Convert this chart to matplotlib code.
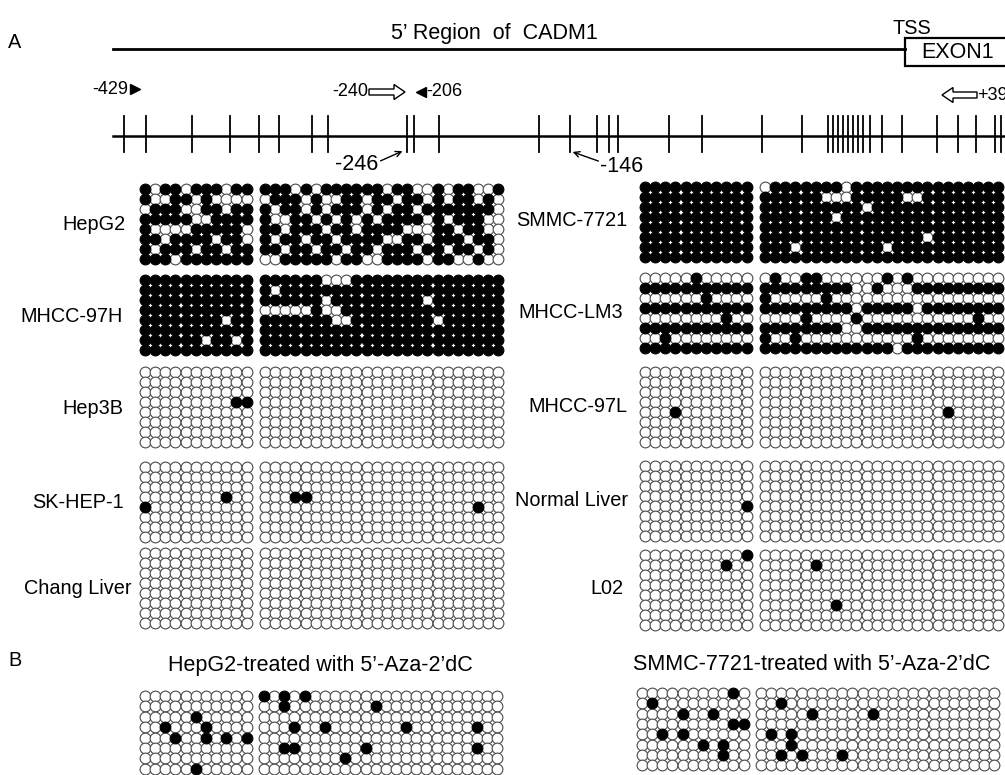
import matplotlib
matplotlib.use("Agg")
import matplotlib.pyplot as plt
from matplotlib.patches import Rectangle, FancyArrow

plt.rcParams['font.family'] = ['Liberation Sans', 'DejaVu Sans']

# ---------------- data ----------------
# CpG site positions along the schematic (x in figure pixels of the schematic)
cpg_sites = [124, 146, 192, 230, 259, 279, 312, 328, 407, 414, 439, 539, 570,
             597, 609, 618, 669, 702, 762, 802, 828, 833, 838, 843, 848, 853,
             858, 863, 870, 882, 902, 937, 958, 976, 995, 1001]

# methylation patterns: 8 clones x (11 | 24) CpGs; 1 = methylated (filled)
hepg2 = ["10110111011 111010111111011001011001",
         "10011010000 011101001101101101011010",
         "01110011011 101101011101011011111110",
         "11111001111 100110101010111101011100",
         "10000111110 110111011011110001101100",
         "11011110110 101101101111001101110110",
         "10111011011 110110110110111011011010",
         "11101111111 001111101100111101100100"]
mhcc97h = ["11111111111 111111000111111111111111",
           "11111111111 101111111111111111111111",
           "11111111111 111111011111111101111111",
           "11111111111 000001001111111111111111",
           "11111111011 111111100111111110111111",
           "11111111111 111111111111111111111111",
           "11111101101 111111111111111111111111",
           "11111111111 111111111111111111111111"]
hep3b = ["00000000000 000000000000000000000000",
         "00000000000 000000000000000000000000",
         "00000000000 000000000000000000000000",
         "00000000011 000000000000000000000000",
         "00000000000 000000000000000000000000",
         "00000000000 000000000000000000000000",
         "00000000000 000000000000000000000000",
         "00000000000 000000000000000000000000"]
skhep1 = ["00000000000 000000000000000000000000",
          "00000000000 000000000000000000000000",
          "00000000000 000000000000000000000000",
          "00000000100 000110000000000000000000",
          "10000000000 000000000000000000000100",
          "00000000000 000000000000000000000000",
          "00000000000 000000000000000000000000",
          "00000000000 000000000000000000000000"]
chang = ["00000000000 000000000000000000000000"] * 8
smmc7721 = ["11111111111 011111110111111111111111",
            "11111111111 111111000111110011111111",
            "11111111111 111111111101111111111111",
            "11111111111 111111101111111111111111",
            "11111111111 111111111111111111111111",
            "11111111111 111111111111111101111111",
            "11111111111 111011111111011111111111",
            "11111111111 111111111111111111111111"]
mhcclm3 = ["00000100000 010011000000101000000000",
           "11111111111 111111111001000111111111",
           "00000010000 100000100000000000000000",
           "11111111111 111111111011111011111111",
           "00000000100 000010000100000000000100",
           "11111111111 111111110011111111111111",
           "00100000000 100100000000000100000000",
           "11111111111 111111111111101111111111"]
mhcc97l = ["00000000000 000000000000000000000000",
           "00000000000 000000000000000000000000",
           "00000000000 000000000000000000000000",
           "00000000000 000000000000000000000000",
           "00010000000 000000000000000000100000",
           "00000000000 000000000000000000000000",
           "00000000000 000000000000000000000000",
           "00000000000 000000000000000000000000"]
normal_liver = ["00000000000 000000000000000000000000",
                "00000000000 000000000000000000000000",
                "00000000000 000000000000000000000000",
                "00000000000 000000000000000000000000",
                "00000000001 000000000000000000000000",
                "00000000000 000000000000000000000000",
                "00000000000 000000000000000000000000",
                "00000000000 000000000000000000000000"]
l02 = ["00000000001 000000000000000000000000",
       "00000000100 000001000000000000000000",
       "00000000000 000000000000000000000000",
       "00000000000 000000000000000000000000",
       "00000000000 000000000000000000000000",
       "00000000000 000000010000000000000000",
       "00000000000 000000000000000000000000",
       "00000000000 000000000000000000000000"]
hepg2_aza = ["00000000000 101010000000000000000000",
             "00000000000 001000000001000000000000",
             "00000100000 000000000000000000000000",
             "00100010000 000100100000001000000100",
             "00010010101 000000000000000000000000",
             "00000000000 001100000010000000000100",
             "00000000000 000000001000000000000000",
             "00000100000 000000000000000000000000"]
smmc_aza = ["00000000010 000000000000000000000000",
            "01000000000 001000000000000000000000",
            "00001001000 000001000001000000000000",
            "00000000011 000000000000000000000000",
            "00101000000 010100000000000000000000",
            "00000010100 000100000000000000000000",
            "00000000100 001010001000000000000000",
            "00000000000 000000000000000000000000"]

cell_lines_left = ["HepG2", "MHCC-97H", "Hep3B", "SK-HEP-1", "Chang Liver"]
cell_lines_right = ["SMMC-7721", "MHCC-LM3", "MHCC-97L", "Normal Liver", "L02"]
patterns_left = [hepg2, mhcc97h, hep3b, skhep1, chang]
patterns_right = [smmc7721, mhcclm3, mhcc97l, normal_liver, l02]
treated_titles = ["HepG2-treated with 5\u2019-Aza-2\u2019dC",
                  "SMMC-7721-treated with 5\u2019-Aza-2\u2019dC"]
treated_patterns = [hepg2_aza, smmc_aza]

# ---------------- layout ----------------
fig = plt.figure(figsize=(10.05, 7.75), dpi=100)
ax = fig.add_axes([0, 0, 1, 1])
ax.set_xlim(0, 1005)
ax.set_ylim(775, 0)
ax.axis('off')

FS = 14.3
FS_T = 15.5
FS_S = 13
DX = 10.15
S = 60


def draw_grid(pattern, xl, xr, y0, dy=10.0):
    xs_f, ys_f, xs_o, ys_o = [], [], [], []
    for r, row in enumerate(pattern):
        left, right = row.split()
        for blk, x0 in ((left, xl), (right, xr)):
            for c, ch in enumerate(blk):
                x = x0 + c * DX
                y = y0 + r * dy
                if ch == '1':
                    xs_f.append(x); ys_f.append(y)
                else:
                    xs_o.append(x); ys_o.append(y)
    ax.scatter(xs_o, ys_o, s=S, facecolor='white', edgecolor='#4a4a4a',
               linewidth=0.8, zorder=2, clip_on=False)
    ax.scatter(xs_f, ys_f, s=S, facecolor='black', edgecolor='black',
               linewidth=0.8, zorder=3, clip_on=False)


# ---- top schematic ----
ax.text(15, 42, "A", fontsize=FS, ha='center', va='center')
ax.text(494, 33, "5\u2019 Region  of  CADM1", fontsize=FS_T, ha='center', va='center')
ax.plot([113, 905], [49, 49], color='black', lw=2.0)
ax.add_patch(Rectangle((905, 38), 120, 28, facecolor='white', edgecolor='black',
                       lw=1.6, clip_on=False))
ax.text(921, 52, "EXON1", fontsize=FS_T, ha='left', va='center')
ax.text(912, 29, "TSS", fontsize=FS, ha='center', va='center')

ax.plot([113, 1005], [136, 136], color='black', lw=1.8)
for xs in cpg_sites:
    ax.plot([xs, xs], [116, 152], color='black', lw=1.3)

ax.text(128, 89, "-429", fontsize=FS_S, ha='right', va='center')
ax.plot([135], [89], marker='>', color='black', markersize=7)
ax.text(368, 92, "-240", fontsize=FS_S, ha='right', va='center')
ax.add_patch(FancyArrow(369, 92, 36, 0, width=6, head_width=15, head_length=11,
                        length_includes_head=True, facecolor='white',
                        edgecolor='black', lw=1))
ax.plot([421], [92], marker='<', color='black', markersize=7)
ax.text(426, 92, "-206", fontsize=FS_S, ha='left', va='center')
ax.add_patch(FancyArrow(977, 95, -35, 0, width=6, head_width=15, head_length=11,
                        length_includes_head=True, facecolor='white',
                        edgecolor='black', lw=1))
ax.text(977, 95, "+39", fontsize=FS_S, ha='left', va='center', clip_on=True)

ax.text(357, 164, "-246", fontsize=FS_T, ha='center', va='center')
ax.annotate("", xy=(405, 150), xytext=(378, 162),
            arrowprops=dict(arrowstyle='->', color='black', lw=1))
ax.text(622, 166, "-146", fontsize=FS_T, ha='center', va='center')
ax.annotate("", xy=(570, 151), xytext=(601, 162),
            arrowprops=dict(arrowstyle='->', color='black', lw=1))

# ---- panel A grids ----
y_left = [189, 280, 372, 467, 553]
y_right = [187, 278, 372, 466, 555]
label_x_left = [125, 123, 123, 124, 132]
label_x_right = [627, 623, 627, 628, 623]
for name, pat, y0, lx in zip(cell_lines_left, patterns_left, y_left, label_x_left):
    draw_grid(pat, 145, 265, y0)
    ax.text(lx, y0 + 36, name, fontsize=FS, ha='right', va='center')
for name, pat, y0, lx in zip(cell_lines_right, patterns_right, y_right, label_x_right):
    draw_grid(pat, 645, 765, y0)
    ax.text(lx, y0 + 34, name, fontsize=FS, ha='right', va='center')

# ---- panel B ----
ax.text(15, 660, "B", fontsize=FS, ha='center', va='center')
ax.text(320, 665, treated_titles[0], fontsize=FS_T, ha='center', va='center')
ax.text(812, 665, treated_titles[1], fontsize=FS_T, ha='center', va='center')
draw_grid(treated_patterns[0], 145, 264, 696, dy=10.4)
draw_grid(treated_patterns[1], 642, 761, 693, dy=10.3)

fig.savefig("out.png", dpi=100)
